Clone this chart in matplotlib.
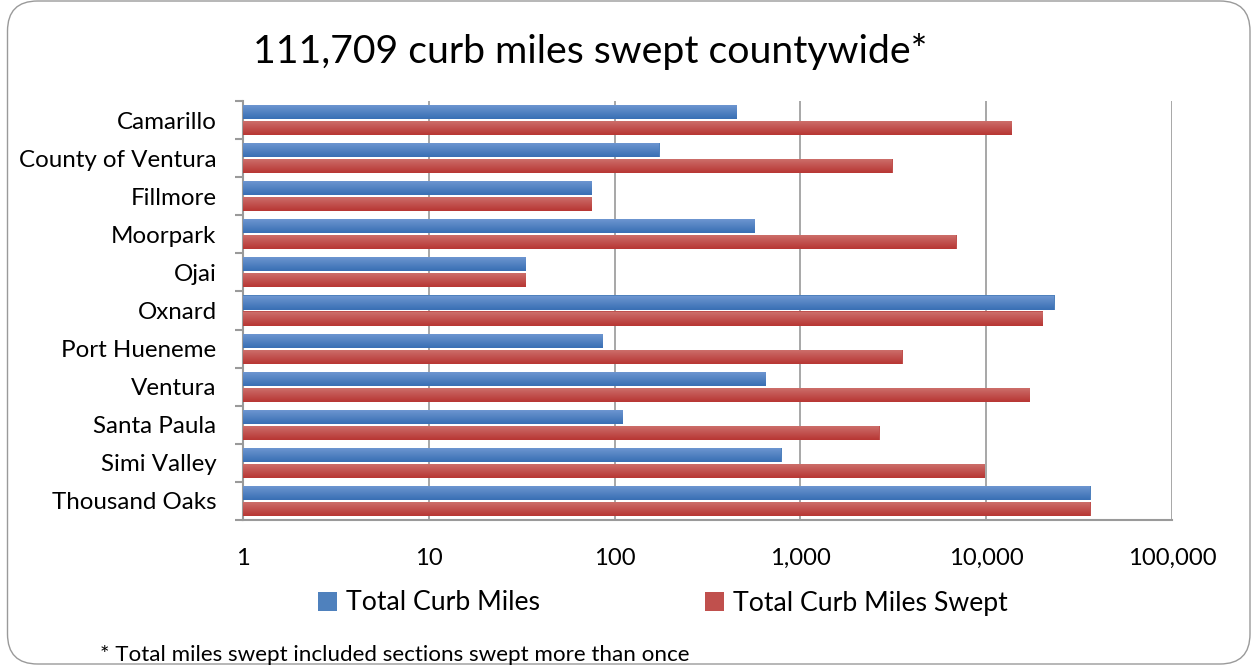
import matplotlib
matplotlib.use("Agg")
import matplotlib.pyplot as plt
import numpy as np
from matplotlib.patches import FancyBboxPatch, Patch
from matplotlib.colors import LinearSegmentedColormap
from matplotlib.ticker import FixedLocator, FuncFormatter

categories = ["Camarillo", "County of Ventura", "Fillmore", "Moorpark", "Ojai",
              "Oxnard", "Port Hueneme", "Ventura", "Santa Paula", "Simi Valley",
              "Thousand Oaks"]
total_curb_miles = [456, 175, 76, 570, 33.4, 23450, 87, 653, 111, 796, 36640]
total_curb_miles_swept = [13770, 3150, 76, 6960, 33.4, 20230, 3565, 17310, 2666, 9860, 36640]
series_names = ["Total Curb Miles", "Total Curb Miles Swept"]
x_ticks = [1, 10, 100, 1000, 10000, 100000]
title = "111,709 curb miles swept countywide*"
footnote = "* Total miles swept included sections swept more than once"

FONT = "Lato"
plt.rcParams["font.family"] = [FONT, "DejaVu Sans"]

W, H = 1253, 671
fig = plt.figure(figsize=(W / 100, H / 100), dpi=100)

# rounded border
border = FancyBboxPatch((7.5 / W, 7 / H), (1250 - 7.5) / W, (670 - 7) / H,
                        boxstyle="round,pad=0,rounding_size=0.024",
                        transform=fig.transFigure, facecolor="none",
                        edgecolor="#9a9a9a", linewidth=1.0, zorder=-1,
                        mutation_aspect=W / H)
fig.patches.append(border)

ax = fig.add_axes([243 / W, 1 - 520 / H, (1172 - 243) / W, (520 - 101) / H])
ax.set_facecolor("none")
ax.set_xscale("log")

y = np.arange(len(categories))
h = 0.37
off = 0.21
blue_bars = ax.barh(y - off, total_curb_miles, height=h, color="#4F81BD", linewidth=0, zorder=3)
red_bars = ax.barh(y + off, total_curb_miles_swept, height=h, color="#C0504D", linewidth=0, zorder=3)

cmap_b = LinearSegmentedColormap.from_list("b", ["#6F97D1", "#3A70B5"])
cmap_r = LinearSegmentedColormap.from_list("r", ["#CD706C", "#B83835"])
grad = np.linspace(0, 1, 64).reshape(-1, 1)
for bars, cm in ((blue_bars, cmap_b), (red_bars, cmap_r)):
    for p in bars.patches:
        y0 = p.get_y()
        y1 = y0 + p.get_height()
        im = ax.imshow(grad, cmap=cm, aspect="auto", extent=(1, 1e5, y1, y0),
                       origin="upper", zorder=4, interpolation="bilinear")
        im.set_clip_path(p)

ax.set_xlim(1, 1e5)
ax.set_ylim(len(categories) - 0.5, -0.5)

ax.xaxis.set_major_locator(FixedLocator(x_ticks))
ax.xaxis.set_minor_locator(FixedLocator([]))
ax.xaxis.set_major_formatter(FuncFormatter(lambda v, p: f"{int(round(v)):,}"))
ax.tick_params(axis="x", which="major", length=0, pad=20, labelsize=17.2, colors="black")

ax.set_yticks(y)
ax.set_yticklabels(categories)
ax.set_yticks(np.arange(-0.5, len(categories), 1), minor=True)
ax.tick_params(axis="y", which="major", length=0, pad=19, labelsize=17.4)
ax.tick_params(axis="y", which="minor", length=6, width=1.5, color="#9a9a9a", direction="out")

ax.grid(axis="x", color="#a0a0a0", linewidth=1.3, zorder=1)
ax.spines["top"].set_visible(False)
ax.spines["right"].set_visible(False)
ax.spines["left"].set_color("#9a9a9a")
ax.spines["left"].set_linewidth(1.5)
ax.spines["bottom"].set_color("#9a9a9a")
ax.spines["bottom"].set_linewidth(1.5)

fig.text(253 / W, 1 - 52 / H, title, fontsize=28.3, ha="left", va="center")

handles = [Patch(facecolor="#4F81BD", edgecolor="none"), Patch(facecolor="#C0504D", edgecolor="none")]
leg = fig.legend(handles, series_names, loc="center", bbox_to_anchor=(663 / W, 1 - 603 / H),
                 ncol=2, frameon=False, fontsize=19.2, handlelength=0.7, handleheight=0.7,
                 handletextpad=0.35, columnspacing=6.2)

fig.text(100 / W, 1 - 655 / H, footnote, fontsize=16.1, ha="left", va="center")

fig.savefig("out.png", dpi=100, facecolor="white")
